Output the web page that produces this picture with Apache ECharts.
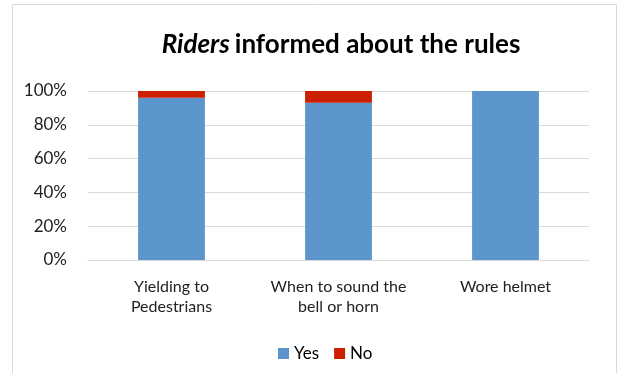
<!DOCTYPE html>
<html><head><meta charset="utf-8">
<script src="https://cdn.jsdelivr.net/npm/echarts@6/dist/echarts.min.js"></script>
<style>html,body{margin:0;padding:0;background:#fff}#c{width:618px;height:373px}</style>
</head><body><div id="c"></div>
<script>
const categories = ['Yielding to\nPedestrians', 'When to sound the\nbell or horn', 'Wore helmet'];
const yesValues = [0.96, 0.93, 1.00];
const noValues = [0.04, 0.07, 0.00];
const yTicks = [0, 0.2, 0.4, 0.6, 0.8, 1.0];

const chart = echarts.init(document.getElementById('c'));
const font = 'Lato, "Open Sans", sans-serif';
chart.setOption({
  animation: false,
  graphic: [{
    type: 'rect', shape: {x: 12.5, y: 4.5, width: 604, height: 400},
    style: {fill: 'none', stroke: '#d9d9d9', lineWidth: 1}, silent: true, z: -1
  }],
  title: {
    text: '{i|Riders} {b|informed about the rules}',
    left: 336, top: 27, textAlign: 'center',
    textStyle: {
      rich: {
        i: {fontFamily: font, fontSize: 26, fontWeight: 'bold', fontStyle: 'italic', color: '#000'},
        b: {fontFamily: font, fontSize: 26, fontWeight: 'bold', color: '#000'}
      }
    }
  },
  legend: {
    data: ['Yes', 'No'], top: 340, left: 273,
    itemWidth: 11, itemHeight: 11, itemGap: 15, icon: 'rect',
    textStyle: {fontFamily: font, fontSize: 17, color: '#000'}
  },
  grid: {left: 88, right: 29, top: 91, bottom: 113},
  xAxis: {
    type: 'category', data: categories,
    axisTick: {show: false},
    axisLine: {lineStyle: {color: '#d9d9d9'}},
    axisLabel: {fontFamily: font, fontSize: 16, color: '#222', margin: 17, lineHeight: 20,
      interval: 0, hideOverlap: false}
  },
  yAxis: {
    type: 'value', min: 0, max: 1, interval: 0.2,
    axisLabel: {fontFamily: font, fontSize: 17, color: '#222', margin: 21,
      formatter: v => Math.round(v * 100) + '%'},
    splitLine: {lineStyle: {color: '#d9d9d9'}},
    axisLine: {show: false}, axisTick: {show: false}
  },
  series: [
    {name: 'Yes', type: 'bar', stack: 's', data: yesValues, barWidth: '40%',
     itemStyle: {color: '#5b95cc'}},
    {name: 'No', type: 'bar', stack: 's', data: noValues, barWidth: '40%',
     itemStyle: {color: '#cc1f00'}}
  ]
});
</script></body></html>
